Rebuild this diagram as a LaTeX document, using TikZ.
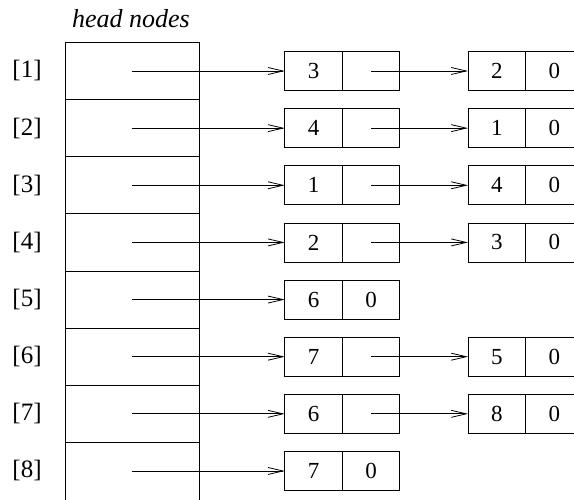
\documentclass[tikz,border=0pt]{standalone}
\usepackage{fontspec}
\setmainfont{Liberation Serif}
\usetikzlibrary{arrows.meta}

\begin{document}
\begin{tikzpicture}[x=1pt,y=-1pt,
    line width=0.8pt,
    field/.style={draw, minimum width=57.5pt, minimum height=39pt,
      inner sep=0pt, outer sep=0pt, font=\fontsize{23}{26}\selectfont},
    ptr/.style={-{Straight Barb[length=15pt,width=7pt]}}]

	\useasboundingbox (0,0) rectangle (574,500);

	% Head nodes
	\node[font=\itshape\fontsize{26}{30}\selectfont] (title) at (131,19) {head nodes};
	\draw (65,500) -- (65,42.4) -- (199,42.4) -- (199,500);

	% Rows with their first list node
	\foreach \i/\a/\l in {1/3/,2/4/,3/1/,4/2/,5/6/0,6/7/,7/6/,8/7/0} {
		\pgfmathsetmacro{\yy}{71+57.14*(\i-1)}
		\node[font=\fontsize{25}{28}\selectfont] (idx\i) at (27,\yy) {[\i]};
		\ifnum\i>1 \draw (65,\yy-28.57) -- (199,\yy-28.57); \fi
		\coordinate (h\i) at (132,\yy);
		\node[field] (d\i) at (313.5,\yy) {\a};
		\node[field, anchor=west] (l\i) at (d\i.east) {\l};
		\draw[ptr] (h\i) -- (d\i.west);
	}

	% Second list nodes
	\foreach \i/\b in {1/2,2/1,3/4,4/3,6/5,7/8} {
		\node[field, anchor=west] (e\i) at (468,71+57.14*\i-57.14) {\b};
		\node[field, anchor=west] (f\i) at (e\i.east) {0};
		\draw[ptr] (l\i.center) -- (e\i.west);
	}

\end{tikzpicture}
\end{document}
